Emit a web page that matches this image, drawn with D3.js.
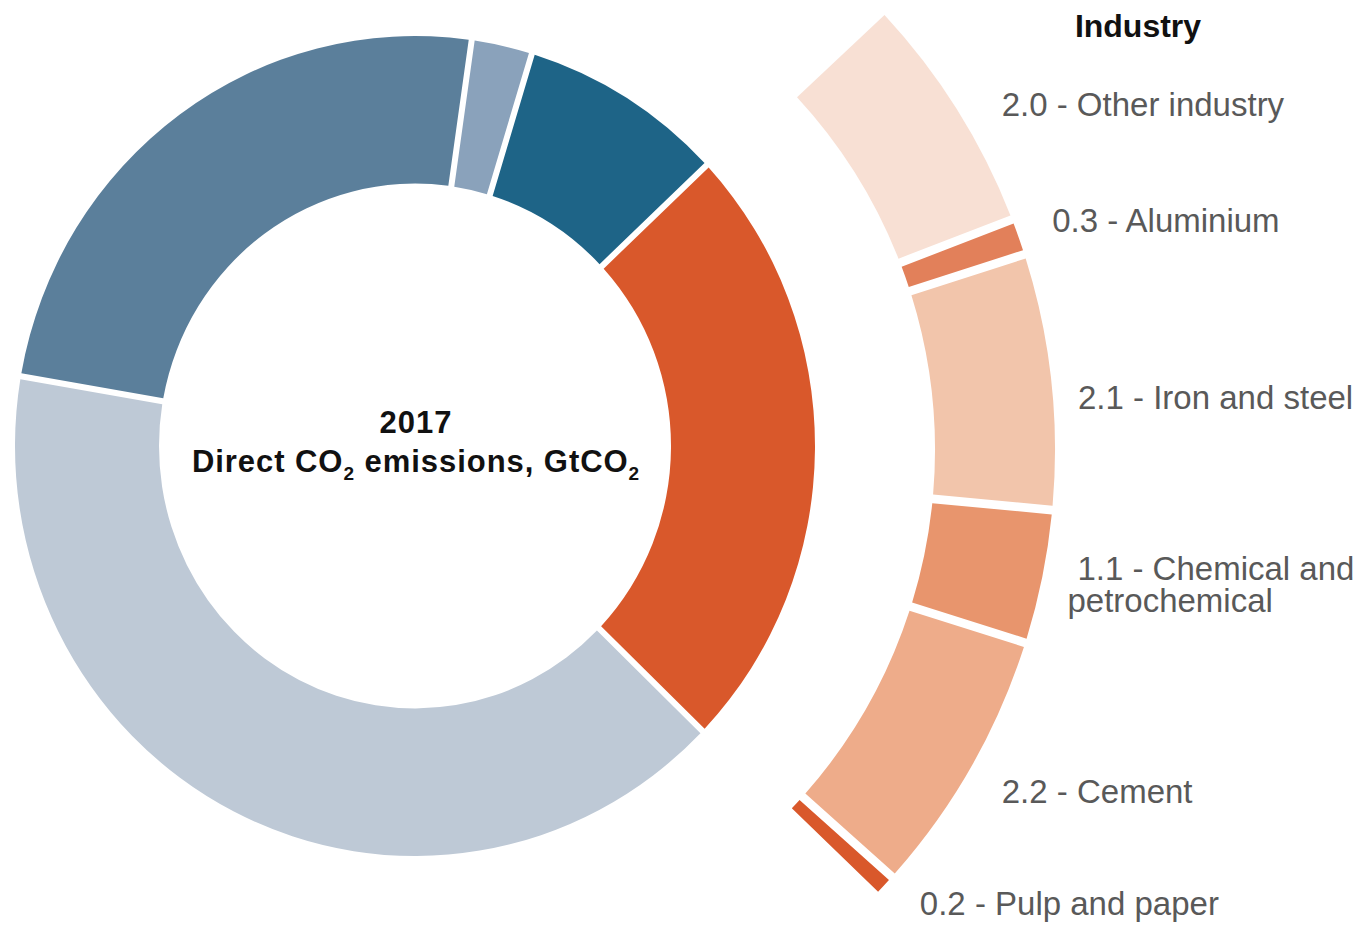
<!DOCTYPE html>
<html>
<head>
<meta charset="utf-8">
<title>Direct CO2 emissions 2017</title>
<script src="https://cdn.jsdelivr.net/npm/d3@7"></script>
<style>
  body { margin: 0; background: #fff; }
  svg { display: block; }
</style>
</head>
<body>
<script>
// Direct CO2 emissions by sector, 2017 (GtCO2)
const sectors = ["Industry", "Power", "Transport", "Other", "Buildings"];
const sectorValues = [7.9, 13.2, 8.0, 0.8, 2.7];
const sectorColors = ["#d9582b", "#bec9d6", "#5b7f9b", "#8aa2bb", "#1e6487"];

// Breakdown of the industry slice (GtCO2)
const industryNames = ["Other industry", "Aluminium", "Iron and steel", "Chemical and|petrochemical", "Cement", "Pulp and paper"];
const industryValues = [2.0, 0.3, 2.1, 1.1, 2.2, 0.2];
const industryColors = ["#f8e0d4", "#e2805a", "#f2c5ab", "#e8956d", "#eeac8a", "#d9582b"];

const W = 1357, H = 925;
const cx = 415, cy = 446;      // main donut centre
const rcx = 415, rcy = 450;    // outer ring centre
const deg = Math.PI / 180;

const svg = d3.select("body").append("svg")
  .attr("width", W).attr("height", H)
  .style("font-family", "'Liberation Sans', Arial, Helvetica, sans-serif");

const chart = svg.append("g")
  .attr("transform", `translate(${cx},${cy}) scale(1,1.025)`);

// Main donut: sectors, starting with industry on the right-hand side
const pie = d3.pie().sort(null).value(d => d.value)
  .startAngle(46.8 * deg).endAngle(46.8 * deg + 2 * Math.PI);

const sectorData = sectors.map((name, i) => ({ name, value: sectorValues[i], color: sectorColors[i] }));
const sectorArcs = pie(sectorData);

const mainArc = d3.arc().innerRadius(256).outerRadius(400)
  .padAngle(0.015).padRadius(400);

chart.selectAll("path.sector")
  .data(sectorArcs)
  .join("path")
  .attr("class", "sector")
  .attr("d", mainArc)
  .attr("fill", d => d.data.color);

// Outer ring: industry breakdown spread over the industry slice's angle
const ind = sectorArcs.find(a => a.data.name === "Industry");
const subPie = d3.pie().sort(null).value(d => d.value)
  .startAngle(ind.startAngle).endAngle(ind.endAngle);

const industryData = industryNames.map((name, i) => ({ name, value: industryValues[i], color: industryColors[i] }));
const industryArcs = subPie(industryData);

const ringArc = d3.arc().innerRadius(520).outerRadius(640)
  .padAngle(0.0145).padRadius(600);

svg.append("g")
  .attr("transform", `translate(${rcx},${rcy})`)
  .selectAll("path.sub")
  .data(industryArcs)
  .join("path")
  .attr("class", "sub")
  .attr("d", ringArc)
  .attr("fill", d => d.data.color);

// Labels for the industry breakdown, placed from each arc's mid-angle
const labelR = 680;
const lineH = 32;
const nudges = [[11, 28], [-4, 9], [-13, 33], [-14, -5], [-4, 16], [7, 2]];
const labels = svg.append("g").attr("fill", "#595959").style("font-size", "33px");

industryArcs.forEach((a, i) => {
  const mid = (a.startAngle + a.endAngle) / 2;
  const x = rcx + labelR * Math.sin(mid) + nudges[i][0];
  const y = rcy - labelR * Math.cos(mid) + nudges[i][1];
  const lines = a.data.name.split("|");
  lines.forEach((ln, j) => {
    const multi = lines.length > 1;
    labels.append("text")
      .attr("x", j === 0 && multi ? x + 10 : x)
      .attr("y", y + j * lineH)
      .text(j === 0 ? `${d3.format(".1f")(a.data.value)} - ${ln}` : ln);
  });
});

// Ring title
svg.append("text")
  .attr("x", 1138).attr("y", 37)
  .attr("text-anchor", "middle")
  .attr("font-weight", "bold")
  .style("font-size", "32px")
  .attr("fill", "#111")
  .text("Industry");

// Centre caption
const centre = svg.append("g")
  .attr("font-weight", "bold")
  .attr("fill", "#111")
  .style("font-size", "31px")
  .style("letter-spacing", "0.95px");

centre.append("text")
  .attr("x", 416).attr("y", 433)
  .attr("text-anchor", "middle")
  .text("2017");

const l2 = centre.append("text")
  .attr("x", 416).attr("y", 472)
  .attr("text-anchor", "middle");
l2.append("tspan").text("Direct CO");
l2.append("tspan").attr("dy", 8).style("font-size", "19px").text("2");
l2.append("tspan").attr("dy", -8).text(" emissions, GtCO");
l2.append("tspan").attr("dy", 8).style("font-size", "19px").text("2");
</script>
</body>
</html>
